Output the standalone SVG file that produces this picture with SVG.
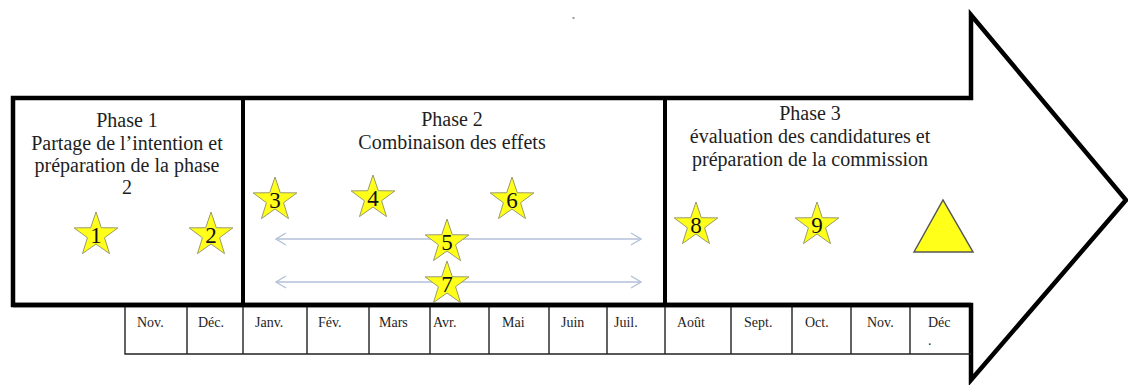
<svg xmlns="http://www.w3.org/2000/svg" width="1128" height="385" viewBox="0 0 1128 385">
  <style>
    .phase { font-family: "Liberation Serif", "Times New Roman", serif; font-size: 20px; fill: #1e1e1e; text-anchor: middle; }
    .month { font-family: "Liberation Serif", "Times New Roman", serif; font-size: 14px; fill: #1e1e1e; }
    .num { font-family: "Liberation Serif", "Times New Roman", serif; font-size: 23px; fill: #111; text-anchor: middle; }
    .star { fill: #FFFF1A; stroke: #9a9a6a; stroke-width: 1; }
    .outline { fill: #fff; stroke: #000; stroke-width: 4.5; stroke-linejoin: miter; stroke-miterlimit: 10; }
    .divider { stroke: #000; stroke-width: 4; }
    .grid { stroke: #222; stroke-width: 1.4; fill: none; }
    .span { stroke: #b3c1d8; stroke-width: 1.3; fill: none; }
  </style>
  <defs>
    <polygon id="star" points="0,-23 5.29,-7.28 21.87,-7.11 8.56,2.78 13.52,18.61 0,9 -13.52,18.61 -8.56,2.78 -21.87,-7.11 -5.29,-7.28"/>
    <marker id="chev-end" viewBox="0 0 12 14" refX="11" refY="7" markerWidth="12" markerHeight="14" markerUnits="userSpaceOnUse" orient="auto">
      <path d="M1,1 L11,7 L1,13" fill="none" stroke="#b3c1d8" stroke-width="1.3"/>
    </marker>
    <marker id="chev-start" viewBox="0 0 12 14" refX="1" refY="7" markerWidth="12" markerHeight="14" markerUnits="userSpaceOnUse" orient="auto">
      <path d="M11,1 L1,7 L11,13" fill="none" stroke="#b3c1d8" stroke-width="1.3"/>
    </marker>
  </defs>

  <rect width="1128" height="385" fill="#fff"/>
  <rect x="572.5" y="17" width="2" height="2" fill="#9a9a9a"/>

  <!-- big arrow body -->
  <g id="arrow">
    <path class="outline" d="M13,98 H971 V15 L1126,200 L971,380 V305 H13 Z"/>
    <line class="divider" x1="243" y1="98" x2="243" y2="305"/>
    <line class="divider" x1="665" y1="98" x2="665" y2="305"/>
  </g>

  <!-- month table under the arrow -->
  <g id="months">
    <path class="grid" d="M125,305 V354 H971 M187,305 V354 M243,305 V354 M307,305 V354 M369,305 V354 M430,305 V354 M489,305 V354 M549,305 V354 M607,305 V354 M665,305 V354 M731,305 V354 M792,305 V354 M851,305 V354 M910,305 V354"/>
    <text class="month" x="137" y="327">Nov.</text>
    <text class="month" x="198" y="327">Déc.</text>
    <text class="month" x="255" y="327">Janv.</text>
    <text class="month" x="318" y="327">Fév.</text>
    <text class="month" x="379" y="327">Mars</text>
    <text class="month" x="433" y="327">Avr.</text>
    <text class="month" x="502" y="327">Mai</text>
    <text class="month" x="561" y="327">Juin</text>
    <text class="month" x="614" y="327">Juil.</text>
    <text class="month" x="677" y="327">Août</text>
    <text class="month" x="744" y="327">Sept.</text>
    <text class="month" x="805" y="327">Oct.</text>
    <text class="month" x="867" y="327">Nov.</text>
    <text class="month" x="928" y="327">Déc</text>
    <text class="month" x="928" y="345">.</text>
  </g>

  <!-- phase headings -->
  <g id="phase1">
    <text class="phase" x="127" y="127">Phase 1</text>
    <text class="phase" x="127" y="150">Partage de l’intention et</text>
    <text class="phase" x="127" y="172">préparation de la phase</text>
    <text class="phase" x="127" y="194">2</text>
  </g>
  <g id="phase2">
    <text class="phase" x="452" y="126">Phase 2</text>
    <text class="phase" x="452" y="149">Combinaison des effets</text>
  </g>
  <g id="phase3">
    <text class="phase" x="810" y="120">Phase 3</text>
    <text class="phase" x="810" y="143">évaluation des candidatures et</text>
    <text class="phase" x="810" y="166">préparation de la commission</text>
  </g>

  <!-- duration connectors -->
  <g id="connectors">
    <line class="span" x1="276" y1="239" x2="641" y2="239" marker-start="url(#chev-start)" marker-end="url(#chev-end)"/>
    <line class="span" x1="276" y1="282" x2="641" y2="282" marker-start="url(#chev-start)" marker-end="url(#chev-end)"/>
  </g>

  <!-- milestones -->
  <g id="star1"><use href="#star" class="star" x="96" y="235"/><text class="num" x="96" y="243">1</text></g>
  <g id="star2"><use href="#star" class="star" x="211" y="235"/><text class="num" x="211" y="243">2</text></g>
  <g id="star3"><use href="#star" class="star" x="275" y="200"/><text class="num" x="275" y="208">3</text></g>
  <g id="star4"><use href="#star" class="star" x="373" y="198"/><text class="num" x="373" y="206">4</text></g>
  <g id="star6"><use href="#star" class="star" x="512" y="200"/><text class="num" x="512" y="208">6</text></g>
  <g id="star5"><use href="#star" class="star" x="447" y="242"/><text class="num" x="447" y="250">5</text></g>
  <g id="star7"><use href="#star" class="star" x="447" y="284"/><text class="num" x="447" y="292">7</text></g>
  <g id="star8"><use href="#star" class="star" x="696" y="225"/><text class="num" x="696" y="233">8</text></g>
  <g id="star9"><use href="#star" class="star" x="817" y="225"/><text class="num" x="817" y="233">9</text></g>
  <g id="commission"><polygon points="914,252 943,200 973,252" fill="#FFFF1A" stroke="#555" stroke-width="1.5"/></g>

  <!-- keep the body's lower edge above star 7 -->
  <line x1="13" y1="305" x2="971" y2="305" stroke="#000" stroke-width="4.5"/>
</svg>
